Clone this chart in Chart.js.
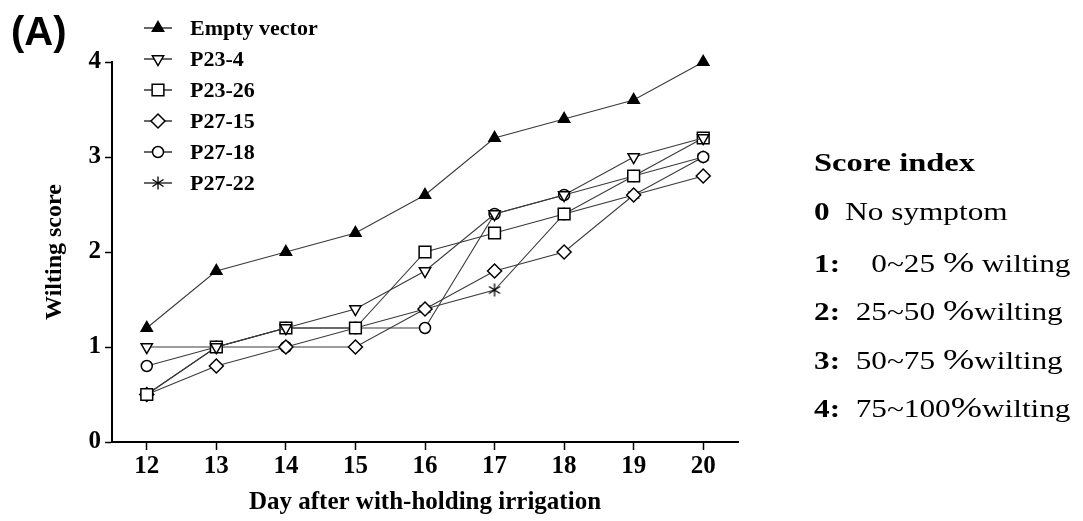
<!DOCTYPE html>
<html><head><meta charset="utf-8">
<script src="https://cdn.jsdelivr.net/npm/chart.js@4.4.1/dist/chart.umd.min.js"></script>
<style>
html,body{margin:0;padding:0;background:#fff;}
#wrap{position:relative;width:1083px;height:521px;overflow:hidden;background:#fff;}
#c{position:absolute;left:0;top:0;}
.t{position:absolute;color:#000;white-space:pre;line-height:1;transform-origin:0 0;}
.serif{font-family:"Liberation Serif","Times New Roman",serif;}
</style></head><body>
<div id="wrap">
<canvas id="c" width="1083" height="521"></canvas>
<div id="panel" class="t" style="left:11px;top:11px;font-family:'Liberation Sans',Arial,sans-serif;font-weight:bold;font-size:40px;">(A)</div>
<div id="score"></div>
</div>
<script>
// ---- data ----
const days = [12, 13, 14, 15, 16, 17, 18, 19, 20];
const emptyVector = [1.2, 1.8, 2.0, 2.2, 2.6, 3.2, 3.4, 3.6, 4.0];
const p23_4  = [1.0, 1.0, 1.2, 1.4, 1.8, 2.4, 2.6, 3.0, 3.2];
const p23_26 = [0.5, 1.0, 1.2, 1.2, 2.0, 2.2, 2.4, 2.8, 3.2];
const p27_15 = [0.5, 0.8, 1.0, 1.0, 1.4, 1.8, 2.0, 2.6, 2.8];
const p27_18 = [0.8, 1.0, 1.0, 1.2, 1.2, 2.4, 2.6, 2.8, 3.0];
const p27_22 = [0.5, 1.0, 1.2, 1.2, 1.4, 1.6, 2.4, 2.6, 3.0];
const seriesNames = ['Empty vector', 'P23-4', 'P23-26', 'P27-15', 'P27-18', 'P27-22'];
const yTicks = [0, 1, 2, 3, 4];
const xTitle = 'Day after with-holding irrigation';
const yTitle = 'Wilting score';
const scoreTitle = 'Score index';
const scoreKeys = ['0', '1:', '2:', '3:', '4:'];
const scoreDescs = ['  No symptom', '    0~25 % wilting', '  25~50 %wilting', '  50~75 %wilting', '  75~100%wilting'];

const seriesValues = [emptyVector, p23_4, p23_26, p27_15, p27_18, p27_22];

// ---- asterisk marker ----
const asterisk = (() => {
  const c = document.createElement('canvas');
  c.width = 14; c.height = 14;
  const g = c.getContext('2d');
  g.strokeStyle = '#000'; g.lineWidth = 1.3;
  g.beginPath();
  g.moveTo(7, 0.5); g.lineTo(7, 13.5);
  g.moveTo(1.5, 3.5); g.lineTo(12.5, 10.5);
  g.moveTo(12.5, 3.5); g.lineTo(1.5, 10.5);
  g.stroke();
  return c;
})();

const markerStyles = [
  { style: 'triangle', rot: 0,   r: 6.5, bg: '#000' },
  { style: 'triangle', rot: 180, r: 6.5, bg: '#fff' },
  { style: 'rect',     rot: 0,   r: 8.3, bg: '#fff' },
  { style: 'rectRot',  rot: 0,   r: 7,   bg: '#fff' },
  { style: 'circle',   rot: 0,   r: 5.5, bg: '#fff' },
  { style: asterisk,   rot: 0,   r: 7,   bg: '#fff' }
];

const datasets = seriesNames.map((name, i) => ({
  label: name,
  data: days.map((d, j) => ({ x: d, y: seriesValues[i][j] })),
  borderColor: '#3a3a3a',
  borderWidth: 1.1,
  pointStyle: markerStyles[i].style,
  pointRotation: markerStyles[i].rot,
  pointRadius: markerStyles[i].r,
  pointBackgroundColor: markerStyles[i].bg,
  pointBorderColor: '#000',
  pointBorderWidth: 1.5,
  tension: 0,
  fill: false,
  clip: false
}));

const serifFont = '"Liberation Serif", "Times New Roman", serif';

const sideLegend = {
  id: 'sideLegend',
  afterDraw(chart) {
    const ctx = chart.ctx;
    ctx.save();
    chart.data.datasets.forEach((ds, i) => {
      const y = 28 + i * 31;
      ctx.strokeStyle = '#000'; ctx.lineWidth = 1.2;
      ctx.beginPath(); ctx.moveTo(144, y); ctx.lineTo(172, y); ctx.stroke();
      ctx.fillStyle = ds.pointBackgroundColor; ctx.strokeStyle = '#000'; ctx.lineWidth = ds.pointBorderWidth;
      Chart.helpers.drawPoint(ctx, { pointStyle: ds.pointStyle, rotation: ds.pointRotation, radius: ds.pointRadius, borderWidth: ds.pointBorderWidth }, 158, y);
      ctx.fillStyle = '#000';
      ctx.font = 'bold 22px ' + serifFont;
      ctx.textBaseline = 'middle'; ctx.textAlign = 'left';
      ctx.fillText(ds.label, 190, y + 1);
    });
    ctx.restore();
  }
};

new Chart(document.getElementById('c'), {
  type: 'line',
  data: { datasets },
  plugins: [sideLegend],
  options: {
    responsive: false, animation: false, devicePixelRatio: 1,
    layout: { padding: { top: 62, right: 345, bottom: 0, left: 0 } },
    plugins: { legend: { display: false }, tooltip: { enabled: false } },
    scales: {
      x: {
        type: 'linear', min: 11.5, max: 20.5,
        afterBuildTicks: s => { s.ticks = days.map(v => ({ value: v })); },
        afterFit: s => { s.height = 79; },
        border: { display: true, color: '#000', width: 2 },
        grid: { display: true, drawOnChartArea: false, drawTicks: true, tickLength: 8, tickColor: '#000', tickWidth: 1.5 },
        ticks: { color: '#000', font: { family: serifFont, weight: 'bold', size: 25 }, padding: 2, autoSkip: false, maxRotation: 0 },
        title: { display: true, text: xTitle, color: '#000', font: { family: serifFont, weight: 'bold', size: 25 }, padding: { top: 0, bottom: 3 } }
      },
      y: {
        min: 0, max: 4,
        afterBuildTicks: s => { s.ticks = yTicks.map(v => ({ value: v })); },
        afterFit: s => { s.width = 112; },
        border: { display: true, color: '#000', width: 2 },
        grid: { display: true, drawOnChartArea: false, drawTicks: true, tickLength: 7, tickColor: '#000', tickWidth: 1.5 },
        ticks: { color: '#000', font: { family: serifFont, weight: 'bold', size: 25 }, padding: 4 },
        title: { display: true, text: yTitle, color: '#000', font: { family: serifFont, weight: 'bold', size: 24 }, padding: { top: 40, bottom: 0 } }
      }
    }
  }
});

// ---- score index text ----
const score = document.getElementById('score');
const sx = 1.25;
const titleEl = document.createElement('div');
titleEl.className = 't serif';
titleEl.style.cssText = 'left:814px;top:150px;font-size:26px;font-weight:bold;transform:scaleX(' + sx + ');';
titleEl.textContent = scoreTitle;
score.appendChild(titleEl);
const rowCenters = [212, 260, 308, 357, 405];
scoreKeys.forEach((k, i) => {
  const row = document.createElement('div');
  row.className = 't serif';
  row.style.cssText = 'left:814px;top:' + (rowCenters[i] - 12.6) + 'px;font-size:25px;transform:scaleX(' + sx + ');';
  const b = document.createElement('b'); b.textContent = k; row.appendChild(b);
  const parts = scoreDescs[i].split('%');
  parts.forEach((p, j) => {
    row.appendChild(document.createTextNode(p));
    if (j < parts.length - 1) {
      const pc = document.createElement('span');
      pc.style.fontSize = '30px'; pc.style.lineHeight = '1';
      pc.textContent = '%';
      row.appendChild(pc);
    }
  });
  score.appendChild(row);
});
</script>
</body></html>
